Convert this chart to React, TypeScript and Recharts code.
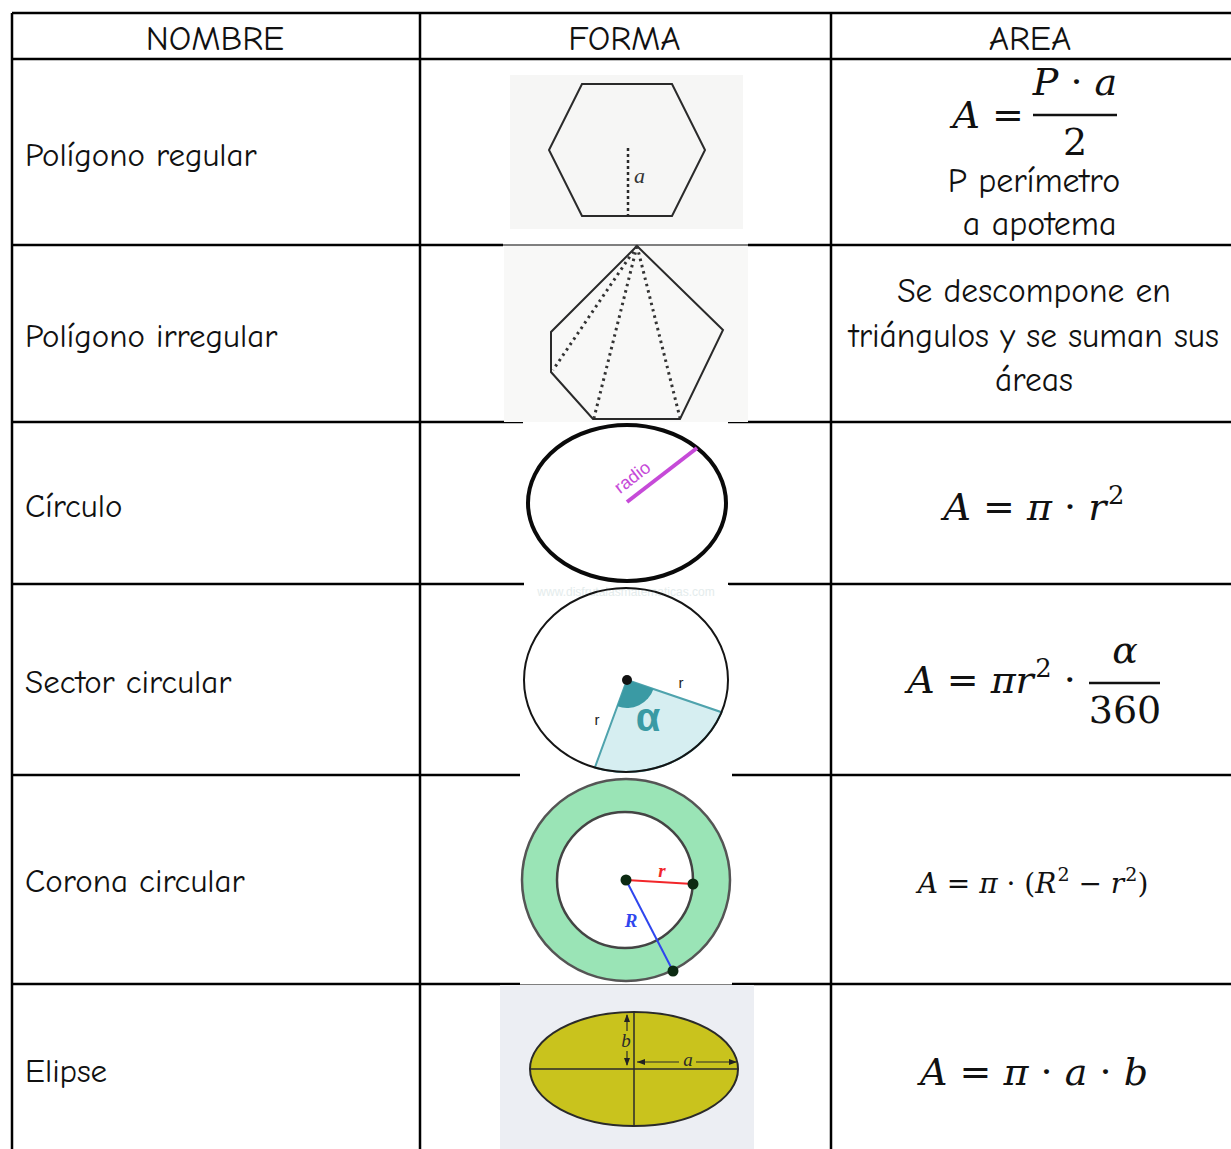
import React from 'react';
import { ScatterChart, Scatter, XAxis, YAxis, ReferenceLine } from 'recharts';

// table content
const headers = ['NOMBRE', 'FORMA', 'AREA'];
const shapeNames = [
  'Polígono regular',
  'Polígono irregular',
  'Círculo',
  'Sector circular',
  'Corona circular',
  'Elipse'
];
const regularNotes = ['P perímetro', ' a apotema'];
const irregularNotes = ['Se descompone en', 'triángulos y se suman sus', 'áreas'];
const figureLabels = { apothem: 'a', radius: 'radio', r: 'r', alpha: 'α', bigR: 'R', a: 'a', b: 'b' };
const watermark = 'www.disfrutalasmatematicas.com';

// formula tokens: i = italic, n = upright, sup = superscript
type Tok = [string, 'i' | 'n' | 'sup'];
const regularLhs: Tok[] = [['A', 'i'], [' = ', 'n']];
const regularNum: Tok[] = [['P', 'i'], [' · ', 'n'], ['a', 'i']];
const regularDen: Tok[] = [['2', 'n']];
const circleFormula: Tok[] = [['A', 'i'], [' = ', 'n'], ['π', 'i'], [' · ', 'n'], ['r', 'i'], ['2', 'sup']];
const sectorLhs: Tok[] = [['A', 'i'], [' = ', 'n'], ['π', 'i'], ['r', 'i'], ['2', 'sup'], [' · ', 'n']];
const sectorNum: Tok[] = [['α', 'i']];
const sectorDen: Tok[] = [['360', 'n']];
const coronaFormula: Tok[] = [
  ['A', 'i'], [' = ', 'n'], ['π', 'i'], [' · (', 'n'], ['R', 'i'], ['2', 'sup'],
  [' − ', 'n'], ['r', 'i'], ['2', 'sup'], [')', 'n']
];
const ellipseFormula: Tok[] = [['A', 'i'], [' = ', 'n'], ['π', 'i'], [' · ', 'n'], ['a', 'i'], [' · ', 'n'], ['b', 'i']];

// layout
const W = 1231;
const H = 1149;
const colX = [12, 420, 831, W];
const rowY = [13, 59, 245, 422, 584, 775, 984];
const nameBaselines = [166, 347, 517, 693, 892, 1082];
const imageGaps: Record<number, [number, number, boolean]> = {
  245: [503, 748, true],
  422: [523, 728, false],
  584: [524, 728, false],
  775: [520, 732, false],
  984: [520, 732, true]
};

const COMIC = '"Comic Sans MS", "Comic Neue", "Noto Sans", sans-serif';
const MATH = '"DejaVu Serif", serif';

const segments: { seg: { x: number; y: number }[]; w: number }[] = [];
rowY.forEach(y => {
  const gap = imageGaps[y];
  if (gap) {
    segments.push({ seg: [{ x: colX[0], y }, { x: gap[0], y }], w: 2.5 });
    segments.push({ seg: [{ x: gap[1], y }, { x: W, y }], w: 2.5 });
    if (gap[2]) segments.push({ seg: [{ x: gap[0], y }, { x: gap[1], y }], w: 1 });
  } else {
    segments.push({ seg: [{ x: colX[0], y }, { x: W, y }], w: 2.5 });
  }
});
colX.slice(0, 3).forEach(x => segments.push({ seg: [{ x, y: rowY[0] }, { x, y: H }], w: 2.5 }));

// text cells
const textCells = [
  ...headers.map((t, i) => ({ x: (colX[i] + colX[i + 1]) / 2 - 1, y: 50, text: t, anchor: 'middle', size: 35 })),
  ...shapeNames.map((t, i) => ({ x: 25, y: nameBaselines[i], text: t, anchor: 'start', size: 33 })),
  ...regularNotes.map((t, i) => ({ x: 1034, y: 192 + i * 43, text: t, anchor: 'middle', size: 34 })),
  ...irregularNotes.map((t, i) => ({ x: 1034, y: 302 + i * 44.5, text: t, anchor: 'middle', size: 33.5 }))
];

const renderTokens = (toks: Tok[], size: number) => {
  const out: React.ReactNode[] = [];
  let raised = false;
  toks.forEach(([t, kind], i) => {
    let dy = 0;
    if (kind === 'sup' && !raised) { dy = -size * 0.42; raised = true; }
    else if (kind !== 'sup' && raised) { dy = size * 0.42; raised = false; }
    out.push(
      <tspan
        key={i}
        dy={dy || undefined}
        dx={kind === 'sup' ? size * 0.04 : undefined}
        fontStyle={kind === 'i' ? 'italic' : 'normal'}
        fontSize={kind === 'sup' ? size * 0.68 : size}
      >
        {t}
      </tspan>
    );
  });
  return out;
};

const MathText = ({ x, y, toks, size, anchor = 'middle' }: any) => (
  <text x={x} y={y} fontFamily={MATH} fontSize={size} textAnchor={anchor} fill="#111" style={{ whiteSpace: 'pre' }}>
    {renderTokens(toks, size)}
  </text>
);

// anchors for the formula column and figures
const formulaAnchors = [
  { x: 1034, y: 152, kind: 'regular' },
  { x: 1034, y: 520, kind: 'circle' },
  { x: 1034, y: 693, kind: 'sector' },
  { x: 1033, y: 893, kind: 'corona' },
  { x: 1034, y: 1085, kind: 'ellipse' }
];
const figureAnchors = [
  { x: 626, y: 152, kind: 'hexagon' },
  { x: 626, y: 333, kind: 'irregular' },
  { x: 626, y: 503, kind: 'circle' },
  { x: 626, y: 680, kind: 'sector' },
  { x: 626, y: 880, kind: 'corona' },
  { x: 634, y: 1069, kind: 'ellipse' }
];

const renderFormula = (p: any) => {
  const { cx, cy, payload } = p;
  const k = payload.kind;
  if (k === 'regular') {
    return (
      <g>
        <MathText x={cx + 2} y={cy - 24} toks={regularLhs} size={38} anchor="end" />
        <MathText x={cx + 41} y={cy - 57} toks={regularNum} size={38} />
        <line x1={cx - 1} x2={cx + 83} y1={cy - 37} y2={cy - 37} stroke="#111" strokeWidth={2.5} />
        <MathText x={cx + 41} y={cy + 3} toks={regularDen} size={38} />
      </g>
    );
  }
  if (k === 'circle') return <MathText x={cx} y={cy} toks={circleFormula} size={38} />;
  if (k === 'sector') {
    return (
      <g>
        <MathText x={cx + 54} y={cy} toks={sectorLhs} size={38} anchor="end" />
        <MathText x={cx + 91} y={cy - 30} toks={sectorNum} size={38} />
        <line x1={cx + 55} x2={cx + 126} y1={cy - 10} y2={cy - 10} stroke="#111" strokeWidth={2.5} />
        <MathText x={cx + 91} y={cy + 30} toks={sectorDen} size={38} />
      </g>
    );
  }
  if (k === 'corona') return <MathText x={cx} y={cy} toks={coronaFormula} size={28} />;
  return <MathText x={cx} y={cy} toks={ellipseFormula} size={38} />;
};

const ell = (cx: number, cy: number, rx: number, ry: number, deg: number) => {
  const t = (deg * Math.PI) / 180;
  return [cx + rx * Math.cos(t), cy + ry * Math.sin(t)];
};

const arrowHead = (x: number, y: number, dir: 'up' | 'down' | 'left' | 'right') => {
  const s = 5;
  const pts =
    dir === 'up' ? [[x, y], [x - 3, y + s * 1.6], [x + 3, y + s * 1.6]]
      : dir === 'down' ? [[x, y], [x - 3, y - s * 1.6], [x + 3, y - s * 1.6]]
        : dir === 'left' ? [[x, y], [x + s * 1.6, y - 3], [x + s * 1.6, y + 3]]
          : [[x, y], [x - s * 1.6, y - 3], [x - s * 1.6, y + 3]];
  return <polygon points={pts.map(p => p.join(',')).join(' ')} fill="#222" />;
};

const renderFigure = (p: any) => {
  const { cx, cy, payload } = p;
  const k = payload.kind;
  if (k === 'hexagon') {
    const pts = [[-44, -68], [46, -68], [79, -2], [46, 64], [-44, 64], [-77, -2]];
    return (
      <g>
        <rect x={cx - 116} y={cy - 77} width={233} height={154} fill="#f6f6f5" />
        <polygon points={pts.map(([a, b]) => `${cx + a},${cy + b}`).join(' ')} fill="none" stroke="#2a2a2a" strokeWidth={2} />
        <line x1={cx + 2} x2={cx + 2} y1={cy - 4} y2={cy + 64} stroke="#2a2a2a" strokeWidth={2.5} strokeDasharray="3 3" />
        <text x={cx + 8} y={cy + 31} fontFamily='"Liberation Serif", serif' fontStyle="italic" fontSize={22} fill="#333">
          {figureLabels.apothem}
        </text>
      </g>
    );
  }
  if (k === 'irregular') {
    const apex = [cx + 11, cy - 87];
    const pts = [apex, [cx + 97, cy - 3], [cx + 54, cy + 86], [cx - 33, cy + 86], [cx - 75, cy + 39], [cx - 75, cy - 1]];
    const ends = [[cx - 73, cy + 37], [cx - 32, cy + 85], [cx + 54, cy + 85]];
    return (
      <g>
        <rect x={cx - 122} y={cy - 87} width={244} height={176} fill="#f8f8f7" />
        <polygon points={pts.map(q => q.join(',')).join(' ')} fill="none" stroke="#2a2a2a" strokeWidth={2} />
        {ends.map((e, i) => (
          <line key={i} x1={apex[0]} y1={apex[1]} x2={e[0]} y2={e[1]} stroke="#333" strokeWidth={3} strokeDasharray="2.5 4" />
        ))}
      </g>
    );
  }
  if (k === 'circle') {
    const ang = -37.5;
    return (
      <g>
        <rect x={cx - 102} y={cy - 81} width={204} height={162} fill="#fff" />
        <ellipse cx={cx + 1} cy={cy} rx={99} ry={78} fill="#fff" stroke="#0a0a0a" strokeWidth={4} />
        <line x1={cx + 1} y1={cy - 1} x2={cx + 71} y2={cy - 55} stroke="#c64ad8" strokeWidth={4} />
        <text
          x={cx + 10}
          y={cy - 21}
          fontFamily='"Liberation Sans", Arial, sans-serif'
          fontSize={18}
          fill="#c64ad8"
          textAnchor="middle"
          transform={`rotate(${ang} ${cx + 10} ${cy - 21})`}
        >
          {figureLabels.radius}
        </text>
      </g>
    );
  }
  if (k === 'sector') {
    const rx = 102;
    const ry = 92;
    const p1 = ell(cx, cy, rx, ry, 20.5);
    const p2 = ell(cx, cy, rx, ry, 107.8);
    const c = [cx + 1, cy];
    const w = 28;
    const d1 = Math.atan2(p1[1] - c[1], p1[0] - c[0]);
    const d2 = Math.atan2(p2[1] - c[1], p2[0] - c[0]);
    const q1 = [c[0] + w * Math.cos(d1), c[1] + w * Math.sin(d1)];
    const q2 = [c[0] + w * Math.cos(d2), c[1] + w * Math.sin(d2)];
    return (
      <g>
        <rect x={cx - 102} y={cy - 95} width={205} height={190} fill="#fff" />
        <text x={cx} y={cy - 84} fontFamily='"Liberation Sans", sans-serif' fontSize={12} fill="#e4ecec" textAnchor="middle">
          {watermark}
        </text>
        <path d={`M${c[0]},${c[1]} L${p1[0]},${p1[1]} A${rx},${ry} 0 0 1 ${p2[0]},${p2[1]} Z`} fill="#d6eef1" stroke="#4fa3ad" strokeWidth={2} />
        <ellipse cx={cx} cy={cy} rx={rx} ry={ry} fill="none" stroke="#151515" strokeWidth={2} />
        <path d={`M${c[0]},${c[1]} L${q1[0]},${q1[1]} A${w},${w} 0 0 1 ${q2[0]},${q2[1]} Z`} fill="#3a9aa4" />
        <circle cx={c[0]} cy={c[1]} r={5} fill="#111" />
        <text x={cx + 22} y={cy + 51} fontFamily='"Liberation Sans", sans-serif' fontSize={40} fontWeight="bold" fill="#3a9aa4" textAnchor="middle">
          {figureLabels.alpha}
        </text>
        <text x={cx + 55} y={cy + 8} fontFamily='"Liberation Sans", sans-serif' fontSize={15} fill="#222" textAnchor="middle">
          {figureLabels.r}
        </text>
        <text x={cx - 29} y={cy + 45} fontFamily='"Liberation Sans", sans-serif' fontSize={15} fill="#222" textAnchor="middle">
          {figureLabels.r}
        </text>
      </g>
    );
  }
  if (k === 'corona') {
    const o = [cx, cy];
    const rEnd = [cx + 67, cy + 4];
    const REnd = [cx + 47, cy + 91];
    return (
      <g>
        <rect x={cx - 106} y={cy - 104} width={212} height={208} fill="#fff" />
        <ellipse cx={cx} cy={cy} rx={104} ry={101} fill="#9ae4b6" stroke="#555" strokeWidth={2.5} />
        <circle cx={cx - 1} cy={cy} r={68} fill="#fff" stroke="#444" strokeWidth={2.5} />
        <line x1={o[0]} y1={o[1]} x2={rEnd[0]} y2={rEnd[1]} stroke="#f2262a" strokeWidth={2} />
        <line x1={o[0]} y1={o[1]} x2={REnd[0]} y2={REnd[1]} stroke="#2f46ee" strokeWidth={2} />
        {[o, rEnd, REnd].map((q, i) => (
          <circle key={i} cx={q[0]} cy={q[1]} r={5.5} fill="#0c2a12" />
        ))}
        <text x={cx + 36} y={cy - 3} fontFamily='"Liberation Serif", serif' fontStyle="italic" fontWeight="bold" fontSize={19} fill="#f2262a" textAnchor="middle">
          {figureLabels.r}
        </text>
        <text x={cx + 5} y={cy + 47} fontFamily='"Liberation Serif", serif' fontStyle="italic" fontWeight="bold" fontSize={19} fill="#2f46ee" textAnchor="middle">
          {figureLabels.bigR}
        </text>
      </g>
    );
  }
  // ellipse
  const rx = 104;
  const ry = 57;
  return (
    <g>
      <rect x={cx - 134} y={cy - 84} width={254} height={170} fill="#eceef3" />
      <ellipse cx={cx} cy={cy} rx={rx} ry={ry} fill="#c9c31d" stroke="#2a2a2a" strokeWidth={2} />
      <line x1={cx - rx} x2={cx + rx} y1={cy} y2={cy} stroke="#2a2a2a" strokeWidth={1.5} />
      <line x1={cx} x2={cx} y1={cy - ry} y2={cy + ry} stroke="#2a2a2a" strokeWidth={1.5} />
      <line x1={cx - 7} x2={cx - 7} y1={cy - ry + 3} y2={cy - 38} stroke="#2a2a2a" strokeWidth={1.2} />
      <line x1={cx - 7} x2={cx - 7} y1={cy - 18} y2={cy - 4} stroke="#2a2a2a" strokeWidth={1.2} />
      {arrowHead(cx - 7, cy - ry + 2, 'up')}
      {arrowHead(cx - 7, cy - 3, 'down')}
      <text x={cx - 8} y={cy - 22} fontFamily='"Liberation Serif", serif' fontStyle="italic" fontSize={19} fill="#2a2a2a" textAnchor="middle">
        {figureLabels.b}
      </text>
      <line x1={cx + 3} x2={cx + 45} y1={cy - 7} y2={cy - 7} stroke="#2a2a2a" strokeWidth={1.2} />
      <line x1={cx + 62} x2={cx + rx - 2} y1={cy - 7} y2={cy - 7} stroke="#2a2a2a" strokeWidth={1.2} />
      {arrowHead(cx + 3, cy - 7, 'left')}
      {arrowHead(cx + rx - 1, cy - 7, 'right')}
      <text x={cx + 54} y={cy - 3} fontFamily='"Liberation Serif", serif' fontStyle="italic" fontSize={19} fill="#2a2a2a" textAnchor="middle">
        {figureLabels.a}
      </text>
    </g>
  );
};

const renderText = (p: any) => {
  const { cx, cy, payload } = p;
  return (
    <text x={cx} y={cy} fontFamily={COMIC} fontSize={payload.size} textAnchor={payload.anchor} fill="#111" style={{ whiteSpace: 'pre' }}>
      {payload.text}
    </text>
  );
};

const App: React.FC = () => (
  <div style={{ position: 'absolute', left: 0, top: 0, width: W, height: H, background: '#fff' }}>
    <ScatterChart width={W} height={H} margin={{ top: 0, right: 0, bottom: 0, left: 0 }}>
      <XAxis type="number" dataKey="x" domain={[0, W]} hide allowDataOverflow />
      <YAxis type="number" dataKey="y" domain={[0, H]} reversed hide allowDataOverflow />
      <Scatter data={figureAnchors} shape={renderFigure} isAnimationActive={false} />
      {segments.map((s, i) => (
        <ReferenceLine key={i} segment={s.seg} stroke="#000" strokeWidth={s.w} ifOverflow="visible" />
      ))}
      <Scatter data={formulaAnchors} shape={renderFormula} isAnimationActive={false} />
      <Scatter data={textCells} shape={renderText} isAnimationActive={false} />
    </ScatterChart>
  </div>
);

export default App;
